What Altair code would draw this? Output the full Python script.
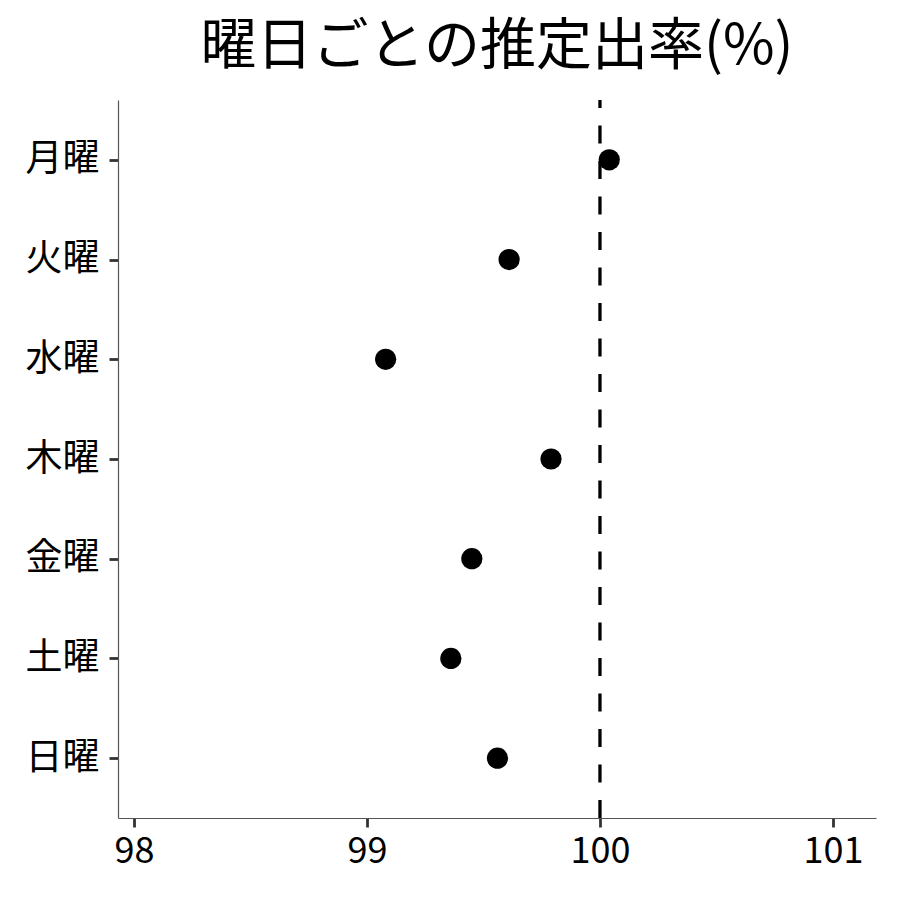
import altair as alt
import pandas as pd

days = ["月曜", "火曜", "水曜", "木曜", "金曜", "土曜", "日曜"]
rates = [100.04, 99.61, 99.08, 99.79, 99.45, 99.36, 99.56]
x_ticks = [98, 99, 100, 101]
ref_value = [100]

df = pd.DataFrame({"day": days, "rate": rates})
ref = pd.DataFrame({"ref": ref_value})

FONT = "Noto Sans CJK JP"
W, H = 758, 718

x_scale = alt.Scale(domain=[97.931, 101.185], nice=False, zero=False)

points = alt.Chart(df).mark_point(filled=True, size=450, color="black", opacity=1).encode(
    x=alt.X("rate:Q", scale=x_scale,
            axis=alt.Axis(values=x_ticks, title=None, grid=False, format="d",
                          domainColor="#555555", domainWidth=1.2,
                          tickColor="#333333", tickWidth=2.8, tickSize=9,
                          labelFont=FONT, labelFontSize=36, labelColor="black",
                          labelPadding=7)),
    y=alt.Y("day:N", sort=days, scale=alt.Scale(type="point", padding=0.6),
            axis=alt.Axis(title=None, grid=False,
                          domainColor="#555555", domainWidth=1.2,
                          tickColor="#333333", tickWidth=2.8, tickSize=9,
                          labelFont=FONT, labelFontSize=37, labelColor="black",
                          labelPadding=10)),
)

rule = alt.Chart(ref).mark_rule(color="black", strokeWidth=3.3, strokeDash=[18, 17.5]).encode(
    x=alt.X("ref:Q", scale=x_scale),
    y=alt.value(H),
    y2=alt.value(0),
)

chart = (points + rule).properties(
    width=W, height=H,
    autosize=alt.AutoSizeParams(type="none"),
    padding={"left": 110, "top": 92, "right": 14, "bottom": 70},
    title=alt.Title("曜日ごとの推定出率(%)", font=FONT, fontSize=56, fontWeight="normal",
                    color="black", anchor="middle", offset=22),
).configure_view(stroke=None)

chart.save("out.html", embed_options={"renderer": "svg", "actions": False})
